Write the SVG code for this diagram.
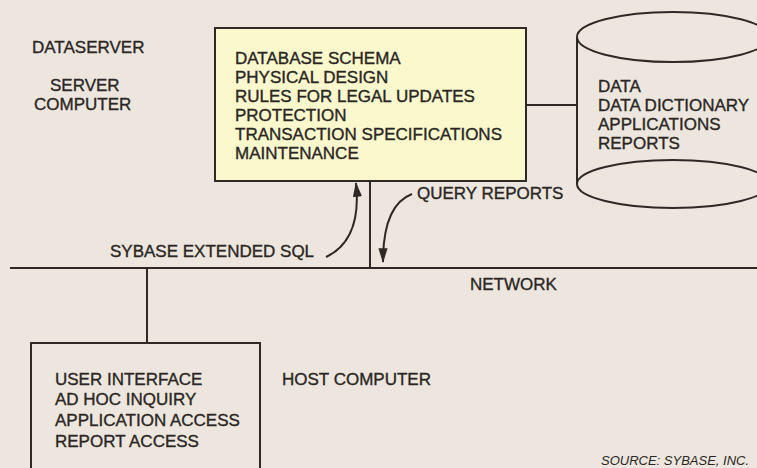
<svg xmlns="http://www.w3.org/2000/svg" width="757" height="468" viewBox="0 0 757 468">
<defs>
<style>
.t{font-family:"Liberation Sans",Arial,sans-serif;font-size:17px;fill:#2b2623;stroke:#2b2623;stroke-width:0.35}
.s{font-family:"Liberation Sans",Arial,sans-serif;font-size:13px;font-style:italic;fill:#2b2623}
.ln{fill:none;stroke:#2e2926;stroke-width:2}
</style>
<marker id="ah" viewBox="0 0 16 10" refX="15" refY="5" markerWidth="7.5" markerHeight="4.6" markerUnits="strokeWidth" orient="auto">
<path d="M0,0 L16,5 L0,10 z" fill="#2e2926"/>
</marker>
</defs>
<rect width="757" height="468" fill="#ece6de"/>
<g id="labels">
<text class="t" x="32" y="53">DATASERVER</text>
<text class="t" x="50" y="91">SERVER</text>
<text class="t" x="34" y="110">COMPUTER</text>
<text class="t" x="282" y="385">HOST COMPUTER</text>
<text class="t" x="470" y="290">NETWORK</text>
<text class="s" x="601" y="465">SOURCE: SYBASE, INC.</text>
</g>
<g id="connectors">
<line class="ln" x1="10" y1="268" x2="757" y2="268"/>
<line class="ln" x1="370" y1="181" x2="370" y2="268"/>
<line class="ln" x1="147" y1="268" x2="147" y2="343"/>
<line class="ln" x1="526" y1="105" x2="577" y2="105"/>
<path class="ln" d="M326,257 Q362,240 356,183" marker-end="url(#ah)"/>
<path class="ln" d="M412,194 Q383,205 383,262" marker-end="url(#ah)"/>
<text class="t" x="110" y="257">SYBASE EXTENDED SQL</text>
<text class="t" x="417" y="199">QUERY REPORTS</text>
</g>
<g id="server">
<rect x="215" y="28" width="311" height="153" fill="#faf8cc" stroke="#2e2926" stroke-width="2"/>
<text class="t" x="235" y="64">DATABASE SCHEMA</text>
<text class="t" x="235" y="83">PHYSICAL DESIGN</text>
<text class="t" x="235" y="102">RULES FOR LEGAL UPDATES</text>
<text class="t" x="235" y="121">PROTECTION</text>
<text class="t" x="235" y="140">TRANSACTION SPECIFICATIONS</text>
<text class="t" x="235" y="159">MAINTENANCE</text>
</g>
<g id="database">
<ellipse class="ln" cx="673" cy="37" rx="96" ry="25"/>
<line class="ln" x1="577" y1="37" x2="577" y2="184"/>
<ellipse class="ln" cx="673" cy="184" rx="96" ry="24"/>
<text class="t" x="598" y="92">DATA</text>
<text class="t" x="598" y="111">DATA DICTIONARY</text>
<text class="t" x="598" y="130">APPLICATIONS</text>
<text class="t" x="598" y="149">REPORTS</text>
</g>
<g id="host">
<rect x="31" y="343" width="229" height="140" fill="none" stroke="#2e2926" stroke-width="2"/>
<text class="t" x="55" y="385">USER INTERFACE</text>
<text class="t" x="55" y="405">AD HOC INQUIRY</text>
<text class="t" x="55" y="426">APPLICATION ACCESS</text>
<text class="t" x="55" y="447">REPORT ACCESS</text>
</g>
</svg>
